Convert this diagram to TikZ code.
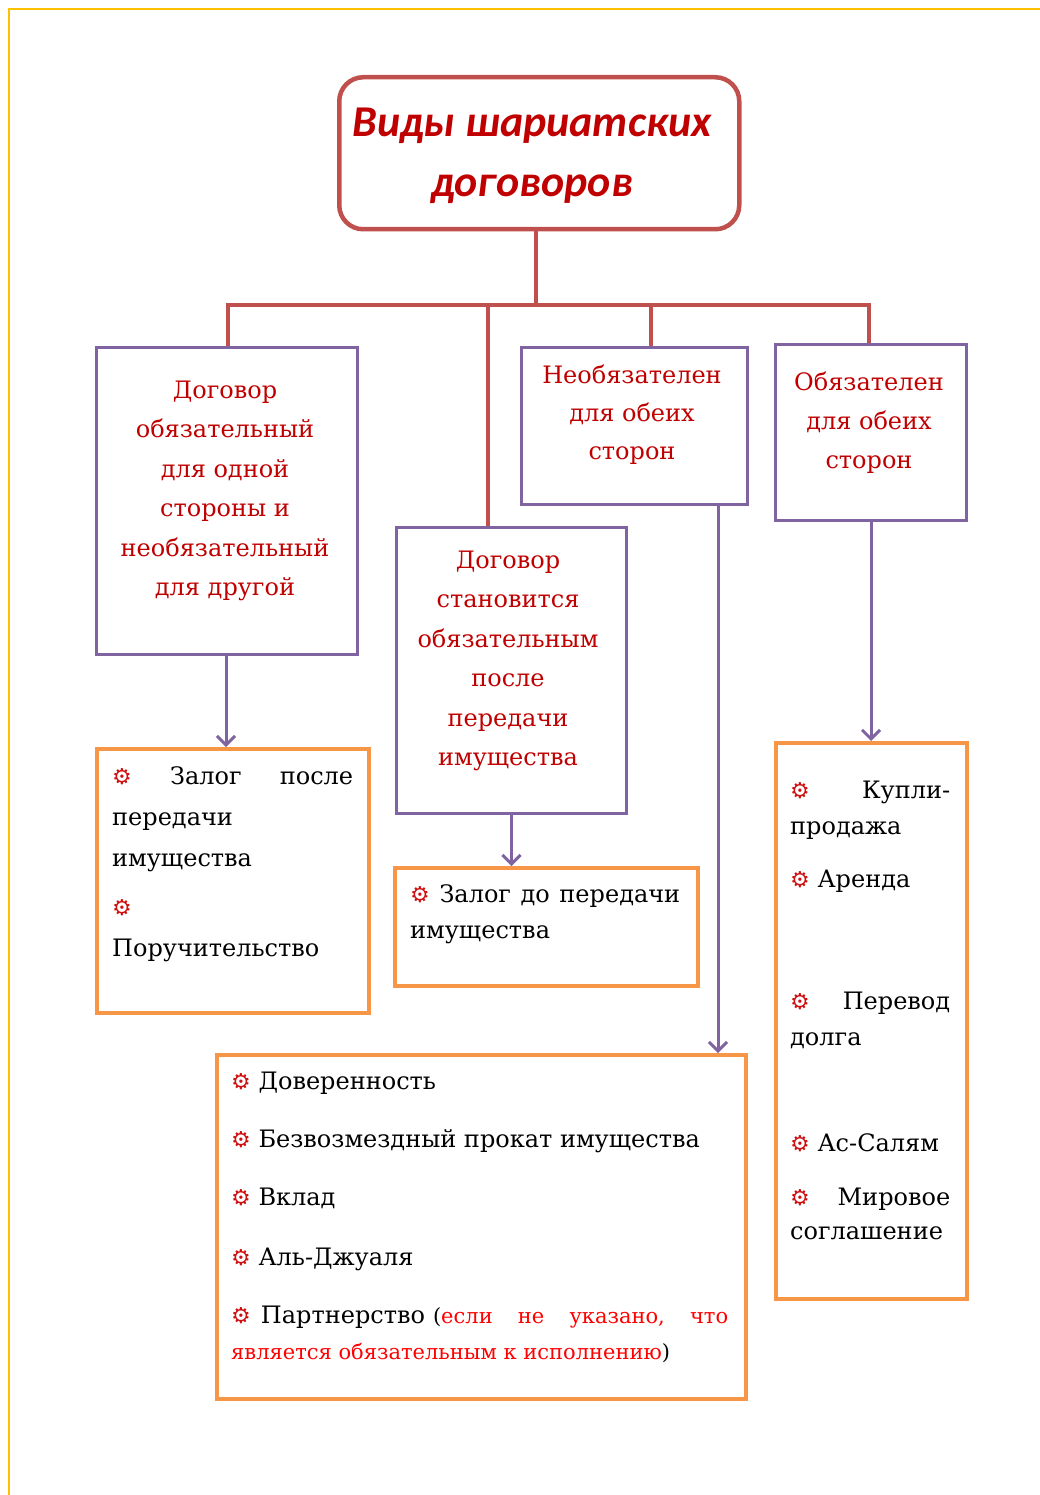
\documentclass[tikz,border=0pt]{standalone}
\usepackage{fontspec}
\setmainfont{DejaVu Serif}
\newfontfamily\titlefont{Carlito}
\newfontfamily\symfont{DejaVu Sans}
\usetikzlibrary{arrows.meta}
\definecolor{frameY}{HTML}{FFC000}
\definecolor{boxpurple}{HTML}{8064A2}
\definecolor{boxorange}{HTML}{F79646}
\definecolor{linered}{HTML}{C0504D}
\definecolor{textred}{HTML}{C00000}
\definecolor{notered}{HTML}{FF0000}
\definecolor{bulred}{HTML}{D01010}
\newcommand{\mybul}{\leavevmode{\symfont\bfseries\color{bulred}\fontsize{22}{22}\selectfont ⚙}}
\tikzset{
  pbox/.style={draw=boxpurple, line width=3pt, anchor=north west, inner sep=0pt},
  obox/.style={draw=boxorange, line width=3.5pt, anchor=north west, inner sep=0pt},
  titlebox/.style={draw=linered, line width=4.5pt, rounded corners=24pt, anchor=north west, inner sep=0pt},
  redline/.style={draw=linered, line width=4pt},
  parrow/.style={draw=boxpurple, line width=3pt, -{Straight Barb[length=9pt,width=18pt,line width=3pt]}},
  ctext/.style={inner sep=0pt, anchor=base, text=textred, font=\fontsize{24}{39.5}\selectfont},
  ltext/.style={inner sep=0pt, anchor=base west, text=black, font=\fontsize{24}{41}\selectfont},
}
\begin{document}
\begin{tikzpicture}[x=1pt,y=-1pt]
\useasboundingbox (0,0) rectangle (1040,1495);
% outer frame
\draw[frameY, line width=2.5pt] (1040,9) -- (9,9) -- (9,1495);

% title
\node[titlebox, minimum width=400pt, minimum height=152pt] (title) at (337,75) {};
\node[inner sep=0pt, anchor=base, text=textred, font=\titlefont\bfseries\itshape\fontsize{44}{60}\selectfont] (ttext) at (532,137)
  {\parbox[t]{400pt}{\centering Виды шариатских\\договоров}};

% purple boxes
\node[pbox, minimum width=261pt, minimum height=307pt] (b1) at (95,346) {};
\node[pbox, minimum width=230pt, minimum height=286pt] (b2) at (395,526) {};
\node[pbox, minimum width=226pt, minimum height=157pt] (b3) at (520,346) {};
\node[pbox, minimum width=191pt, minimum height=176pt] (b4) at (774,343) {};

% orange boxes
\node[obox, minimum width=272pt, minimum height=264pt] (b5) at (95,747) {};
\node[obox, minimum width=303pt, minimum height=118pt] (b6) at (393,866) {};
\node[obox, minimum width=529pt, minimum height=344pt] (b7) at (215,1053) {};
\node[obox, minimum width=191pt, minimum height=556pt] (b8) at (774,741) {};

% red tree
\coordinate (bar) at (536,305);
\coordinate (d1) at (228,305);
\coordinate (d2) at (488,305);
\coordinate (d3) at (651,305);
\coordinate (d4) at (869,305);
\draw[redline] (title.south -| bar) -- (bar);
\draw[redline] (d1 |- b1.north) -- (d1) -- (d4) -- (d4 |- b4.north);
\draw[redline] (d2) -- (d2 |- b2.north);
\draw[redline] (d3) -- (d3 |- b3.north);

% purple arrows
\coordinate (a1) at (226,653);
\coordinate (a3) at (718,503);
\draw[parrow] (a1) -- (a1 |- b5.north);
\draw[parrow] (b2.south) -- (b2.south |- b6.north);
\draw[parrow] (a3) -- (a3 |- b7.north);
\draw[parrow] (b4.south) -- (b4.south |- b8.north);

% purple box texts
\node[ctext] (t1) at (225,398) {\parbox[t]{250pt}{\centering Договор\\обязательный\\для одной\\стороны и\\необязательный\\для другой}};
\node[ctext] (t2) at (508,568) {\parbox[t]{225pt}{\centering Договор\\становится\\обязательным\\после\\передачи\\имущества}};
\node[ctext, font=\fontsize{24}{38}\selectfont] (t3) at (632,383) {\parbox[t]{220pt}{\centering Необязателен\\для обеих\\сторон}};
\node[ctext, font=\fontsize{24}{39}\selectfont] (t4) at (869,390) {\parbox[t]{185pt}{\centering Обязателен\\для обеих\\сторон}};

% orange box texts
\node[ltext] (t5) at (112,784) {\parbox[t]{241pt}{\makebox[241pt][s]{\mybul\hfill Залог\hfill после}\\передачи\\имущества\\[8pt]\mybul\\Поручительство}};
\node[ltext, font=\fontsize{24}{36}\selectfont] (t6) at (410,902) {\parbox[t]{270pt}{\makebox[270pt][s]{\mybul\hfill Залог\hfill до\hfill передачи}\\имущества}};
\node[ltext, font=\fontsize{24}{36}\selectfont] (t7) at (231,1089) {\parbox[t]{497pt}{\mybul\ Доверенность\\[22pt]\mybul\ Безвозмездный прокат имущества\\[22pt]\mybul\ Вклад\\[24pt]\mybul\ Аль-Джуаля\\[22pt]\makebox[497pt][s]{\mybul\hspace{10pt}Партнерство\hspace{8pt}{\fontsize{21}{36}\selectfont(\textcolor{notered}{если}\hfill\textcolor{notered}{не}\hfill\textcolor{notered}{указано,}\hfill\textcolor{notered}{что}}}\\{\fontsize{21}{36}\selectfont\textcolor{notered}{является обязательным к исполнению})}}};
\node[ltext, font=\fontsize{24}{36}\selectfont] (t8a) at (790,798) {\parbox[t]{160pt}{\makebox[160pt][s]{\mybul\hfill Купли-}\\продажа}};
\node[ltext] (t8b) at (790,887) {\mybul\ Аренда};
\node[ltext, font=\fontsize{24}{36}\selectfont] (t8c) at (790,1009) {\parbox[t]{160pt}{\makebox[160pt][s]{\mybul\hfill Перевод}\\долга}};
\node[ltext] (t8d) at (790,1151) {\mybul\ Ас-Салям};
\node[ltext, font=\fontsize{24}{34}\selectfont] (t8e) at (790,1205) {\parbox[t]{160pt}{\makebox[160pt][s]{\mybul\hfill Мировое}\\соглашение}};
\end{tikzpicture}
\end{document}
